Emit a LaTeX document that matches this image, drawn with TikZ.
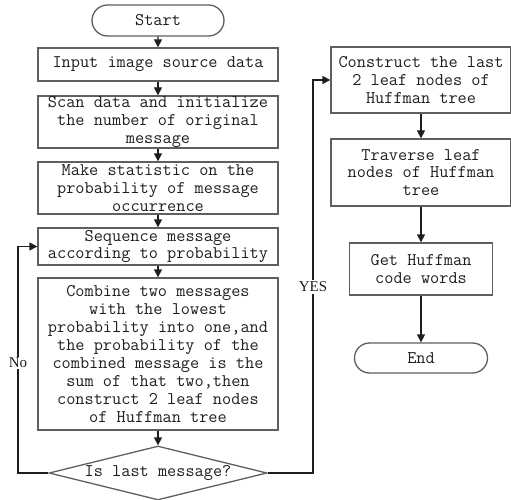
\documentclass[tikz,border=0pt]{standalone}
\usepackage{fontspec}
\setmainfont{Liberation Serif}
\usetikzlibrary{arrows.meta, positioning, shapes.geometric, shapes.misc}
\definecolor{BD}{RGB}{95,95,95}
\definecolor{TX}{RGB}{30,30,30}

\begin{document}
\begin{tikzpicture}[x=1pt, y=1pt,
  box/.style={draw=BD, line width=1.3pt, minimum width=240pt, align=center,
              inner sep=0pt, font=\ttfamily\fontsize{17.8}{17.9}\selectfont, text=TX},
  rbox/.style={box, minimum width=180pt},
  term/.style={box, rounded rectangle},
  dec/.style={box, diamond, aspect=4, minimum width=218pt, minimum height=54pt},
  flow/.style={-{Triangle[length=8pt,width=8pt]}, line width=1.3pt, draw=TX},
  lbl/.style={font=\fontsize{15}{17}\selectfont, fill=white, inner sep=1.5pt, text=TX}
]
\useasboundingbox (0,0) rectangle (511,-500);

% Main column
\node[term, minimum width=132pt, minimum height=31pt] (start) at (158,-20.5) {Start};
\node[box, minimum height=33pt] (input) at (158,-64.5) {Input image source data};
\node[box, minimum height=52pt] (scan) at (158,-122)
  {Scan data and initialize\\the number of original\\message};
\node[box, minimum height=52pt] (stat) at (158,-188)
  {Make statistic on the\\probability of message\\occurrence};
\node[box, minimum height=37pt] (seq) at (158,-246.5)
  {Sequence message\\according to probability};
\node[box, minimum height=152pt] (comb) at (158,-354)
  {Combine two messages\\with the lowest\\probability into one,and\\the probability of the\\combined message is the\\sum of that two,then\\construct 2 leaf nodes\\of Huffman tree};
\node[dec] (last) at (158,-473) {Is last message?};

% Right column
\node[rbox, minimum height=66pt] (leaf) at (421,-80)
  {Construct the last\\2 leaf nodes of\\Huffman tree};
\node[rbox, minimum height=67pt] (trav) at (421,-172.5)
  {Traverse leaf\\nodes of Huffman\\tree};
\node[box, minimum width=143pt, minimum height=52pt] (code) at (421,-269)
  {Get Huffman\\code words};
\node[term, minimum width=133pt, minimum height=30pt] (end) at (421,-358) {End};

% Straight arrows
\foreach \a/\b in {start/input, input/scan, scan/stat, stat/seq, seq/comb, comb/last,
                   leaf/trav, trav/code, code/end}
  { \draw[flow] (\a) -- (\b); }

% Loop back and exit
\coordinate (nobend) at (18,-473);
\coordinate (yesbend) at (313,-473);
\draw[flow] (last.west) -- (nobend) |- (seq.west);
\draw[flow] (last.east) -- (yesbend) |- (leaf.west);
\node[lbl] (no) at (18,-363) {No};
\node[lbl] (yes) at (313,-287) {YES};
\end{tikzpicture}
\end{document}
